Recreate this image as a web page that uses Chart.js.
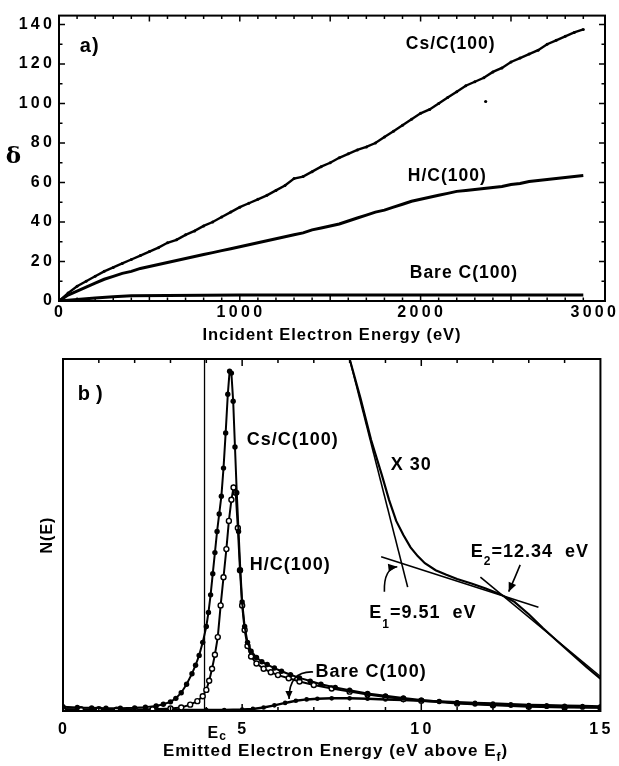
<!DOCTYPE html>
<html>
<head>
<meta charset="utf-8">
<title>Secondary electron yield and energy distribution</title>
<script src="https://cdn.jsdelivr.net/npm/chart.js@4.4.1/dist/chart.umd.min.js"></script>
<style>
  body { margin: 0; background: #fff; }
  .panel { position: absolute; left: 0; }
</style>
</head>
<body>
<canvas id="yieldChart" class="panel" width="619" height="345" style="top:0"></canvas>
<canvas id="spectrumChart" class="panel" width="619" height="421" style="top:345px"></canvas>
<script>
// --- panel a) : yield delta vs incident electron energy (eV) ---
const incidentEnergy = [0, 50, 100, 150, 200, 250, 300, 350, 400, 450, 500, 550, 600, 650, 700, 750,
  800, 850, 900, 950, 1000, 1050, 1100, 1150, 1200, 1250, 1300, 1350, 1400, 1450, 1500, 1550, 1600,
  1650, 1700, 1750, 1800, 1850, 1900, 1950, 2000, 2050, 2100, 2150, 2200, 2250, 2300, 2350, 2400,
  2450, 2500, 2550, 2600, 2650, 2700, 2750, 2800, 2850, 2900];
const csYield = [0, 4, 7.5, 10, 12.5, 15, 17, 19, 21, 23, 25, 27, 29.5, 31, 33.5, 35.5, 38, 40, 42.5,
  45, 47.5, 49.5, 51.5, 53.5, 56, 58.5, 62, 63, 65.5, 68, 70, 72.5, 74.5, 76.5, 78, 80, 83, 86, 89,
  92, 95, 97, 100, 103, 106, 109, 111, 113, 116, 118, 121, 123, 125, 127, 130, 132, 134, 136, 137.5];
const hYield = [0, 3, 5, 7, 9, 11, 12.5, 14, 15, 16.5, 17.5, 18.5, 19.5, 20.5, 21.5, 22.5, 23.5, 24.5,
  25.5, 26.5, 27.5, 28.5, 29.5, 30.5, 31.5, 32.5, 33.5, 34.5, 36, 37, 38, 39, 40.5, 42, 43.5, 45, 46,
  47.5, 49, 50.5, 51.5, 52.5, 53.5, 54.5, 55.5, 56, 56.5, 57, 57.5, 58, 59, 59.5, 60.5, 61, 61.5, 62,
  62.5, 63, 63.5];
const bareIncident = [0, 100, 200, 300, 400, 600, 800, 1000, 1500, 2000, 2500, 2900];
const bareYield = [0, 0.8, 1.5, 2.2, 2.6, 2.8, 2.9, 3, 3, 3, 3, 3];
const csOutlierEnergy = [2360];
const csOutlierYield = [101];
const yieldTickLabels = [0, 1000, 2000, 3000];

// --- panel b) : N(E) vs emitted electron energy (eV above Ef) ---
const csEmitted = [0, 0.4, 0.8, 1.2, 1.6, 2.0, 2.3, 2.6, 2.8, 3.0, 3.15, 3.3, 3.45, 3.6, 3.7, 3.8, 3.9,
  4.0, 4.06, 4.12, 4.18, 4.24, 4.3, 4.36, 4.42, 4.48, 4.54, 4.6, 4.65, 4.7, 4.75, 4.8, 4.85, 4.9, 4.95,
  5.0, 5.07, 5.15, 5.25, 5.4, 5.55, 5.7, 5.9, 6.1, 6.35, 6.6, 6.9, 7.2, 7.6, 8.0, 8.5, 9.0, 9.5, 10.0,
  10.5, 11.0, 11.5, 12.0, 12.5, 13.0, 13.5, 14.0, 14.5, 15.0];
const csCounts = [1.2, 1.0, 0.9, 0.8, 0.8, 0.9, 1.1, 1.4, 1.9, 2.6, 3.6, 5.2, 7.6, 10.6, 13, 15.8, 19.5,
  24, 28, 33, 39, 45, 51, 56, 61, 69, 79, 90, 96.5, 96, 88, 75, 62, 51, 40, 31, 24, 19.5, 17, 15.2, 14,
  13.2, 12.2, 11.3, 10.3, 9.4, 8.5, 7.6, 6.7, 5.9, 5.0, 4.3, 3.7, 3.1, 2.7, 2.3, 2.0, 1.8, 1.6, 1.4, 1.3,
  1.2, 1.1, 1.0];
const hEmitted = [0, 0.5, 1.0, 1.5, 2.0, 2.5, 3.0, 3.3, 3.55, 3.75, 3.9, 4.0, 4.08, 4.16, 4.24, 4.32, 4.4,
  4.48, 4.56, 4.63, 4.7, 4.76, 4.82, 4.88, 4.94, 5.0, 5.07, 5.15, 5.25, 5.4, 5.6, 5.8, 6.0, 6.3, 6.6,
  7.0, 7.5, 8.0, 8.5, 9.0, 9.5, 10, 11, 12, 13, 14, 15];
const hCounts = [0.6, 0.5, 0.5, 0.4, 0.4, 0.5, 0.7, 1.0, 1.8, 2.8, 4.2, 6.0, 8.6, 12, 16, 21, 30, 38, 46,
  54, 60, 63.5, 62, 52, 40, 30, 23, 18.5, 15.5, 13.5, 12, 11, 10.2, 9.3, 8.4, 7.4, 6.4, 5.5, 4.7, 4.0,
  3.4, 2.9, 2.1, 1.6, 1.2, 1.0, 0.9];
const bareEmitted = [0, 1, 2, 3, 4, 4.5, 5.0, 5.3, 5.6, 5.9, 6.2, 6.5, 6.8, 7.1, 7.5, 8, 8.5, 9, 9.5, 10,
  10.5, 11, 11.5, 12, 12.5, 13, 13.5, 14, 14.5, 15];
const bareCounts = [0.3, 0.3, 0.3, 0.3, 0.3, 0.3, 0.4, 0.6, 1.0, 1.6, 2.3, 2.9, 3.3, 3.5, 3.6, 3.6, 3.5,
  3.3, 3.1, 2.9, 2.7, 2.5, 2.3, 2.1, 1.9, 1.7, 1.6, 1.5, 1.4, 1.3];
// tail magnified x30
const x30Emitted = [8.0, 8.3, 8.6, 8.9, 9.1, 9.3, 9.5, 9.7, 9.9, 10.1, 10.4, 10.7, 11.0, 11.4, 11.8, 12.2,
  12.6, 13.0, 13.4, 13.8, 14.2, 14.6, 15.0];
const x30Counts = [100, 89, 77, 67, 60, 54, 50, 46.5, 44, 42, 40, 38.7, 37.5, 36.2, 34.8, 33.2, 31, 27.5,
  23.5, 19.8, 16.2, 12.6, 9.2];
// straight-line fits used for E1 and E2
const fit1Emitted = [8.0, 9.62];
const fit1Counts = [100, 35.2];
const fit2Emitted = [8.88, 13.27];
const fit2Counts = [43.8, 29.5];
const fit3Emitted = [11.65, 15.0];
const fit3Counts = [38, 9.8];
// Ec marker
const ecEmitted = [3.95, 3.95];
const ecCounts = [0, 100];

const FONT = "'Liberation Sans', Arial, Helvetica, sans-serif";
const black = "#000";

Chart.defaults.font.family = FONT;
Chart.defaults.font.weight = "bold";
Chart.defaults.color = black;
Chart.defaults.animation = false;
Chart.defaults.plugins.legend.display = false;
Chart.defaults.plugins.tooltip.enabled = false;

const pairs = (xs, ys) => xs.map((x, i) => ({ x, y: ys[i] }));
const spaced = (v) => String(v).split("").join("\u200A");

function setFont(ctx, size, family) {
  ctx.font = `bold ${size}px ${family || FONT}`;
}

// text pieces drawn one after another; dy shifts subscripts down
function drawRuns(ctx, runs, x, y) {
  ctx.textAlign = "left";
  ctx.textBaseline = "alphabetic";
  for (const r of runs) {
    setFont(ctx, r.size);
    ctx.fillText(r.t, x, y + (r.dy || 0));
    x += ctx.measureText(r.t).width;
  }
}

function label(ctx, text, x, y, size) {
  setFont(ctx, size);
  ctx.textAlign = "left";
  ctx.textBaseline = "middle";
  ctx.fillText(text, x, y);
}

function arrow(ctx, p0, c, p1, head) {
  ctx.beginPath();
  ctx.moveTo(p0[0], p0[1]);
  ctx.quadraticCurveTo(c[0], c[1], p1[0], p1[1]);
  ctx.stroke();
  const a = Math.atan2(p1[1] - c[1], p1[0] - c[0]);
  const bx = p1[0] - head * Math.cos(a), by = p1[1] - head * Math.sin(a);
  const w = head * 0.45;
  ctx.beginPath();
  ctx.moveTo(p1[0], p1[1]);
  ctx.lineTo(bx + w * Math.sin(a), by - w * Math.cos(a));
  ctx.lineTo(bx - w * Math.sin(a), by + w * Math.cos(a));
  ctx.closePath();
  ctx.fill();
}

// frame + inward ticks
function frame(ctx, area, xs, ys, xTicks, yTicks) {
  ctx.strokeStyle = black;
  ctx.lineWidth = 2;
  ctx.strokeRect(area.left, area.top, area.right - area.left, area.bottom - area.top);
  ctx.lineWidth = 1.5;
  ctx.beginPath();
  for (const [v, len] of xTicks) {
    const px = xs.getPixelForValue(v);
    ctx.moveTo(px, area.bottom); ctx.lineTo(px, area.bottom - len);
    ctx.moveTo(px, area.top); ctx.lineTo(px, area.top + len);
  }
  for (const [v, len] of yTicks) {
    const py = ys.getPixelForValue(v);
    ctx.moveTo(area.left, py); ctx.lineTo(area.left + len, py);
    ctx.moveTo(area.right, py); ctx.lineTo(area.right - len, py);
  }
  ctx.stroke();
}

const spacing = {
  id: "spacing",
  beforeDraw(chart) { chart.ctx.letterSpacing = "1px"; }
};

const yieldDecor = {
  id: "yieldDecor",
  afterDraw(chart) {
    const { ctx, chartArea: area, scales: { x, y } } = chart;
    ctx.save();
    ctx.letterSpacing = "1px";
    const xt = [], yt = [];
    for (let v = 100; v < 3000; v += 100) xt.push([v, v % 500 === 0 ? 6 : 3.5]);
    for (let v = 10; v <= 140; v += 10) yt.push([v, v % 20 === 0 ? 6 : 3.5]);
    frame(ctx, area, x, y, xt, yt);
    ctx.fillStyle = black;

    // x tick labels, kept inside the canvas at the right edge
    setFont(ctx, 16);
    ctx.textAlign = "center";
    ctx.textBaseline = "middle";
    for (const v of yieldTickLabels) {
      const t = spaced(v);
      const w = ctx.measureText(t).width;
      const px = Math.min(x.getPixelForValue(v), chart.width - w / 2 - 2);
      ctx.fillText(t, px, area.bottom + 12);
    }

    label(ctx, "a)", x.getPixelForValue(115), y.getPixelForValue(129), 20);
    label(ctx, "Cs/C(100)", x.getPixelForValue(1918), y.getPixelForValue(130), 17.5);
    label(ctx, "H/C(100)", x.getPixelForValue(1929), y.getPixelForValue(63.4), 17.5);
    label(ctx, "Bare C(100)", x.getPixelForValue(1940), y.getPixelForValue(14), 17.5);

    setFont(ctx, 23, "'DejaVu Serif', serif");
    ctx.textAlign = "center";
    ctx.fillText("\u03B4", 14, y.getPixelForValue(73));
    ctx.restore();
  }
};

const spectrumDecor = {
  id: "spectrumDecor",
  afterDraw(chart) {
    const { ctx, chartArea: area, scales: { x, y } } = chart;
    ctx.save();
    ctx.letterSpacing = "1px";
    const xt = [];
    for (let v = 1; v < 15; v++) xt.push([v, v % 5 === 0 ? 7 : 4]);
    frame(ctx, area, x, y, xt, []);
    ctx.fillStyle = black;
    ctx.strokeStyle = black;

    label(ctx, "b\u2009)", x.getPixelForValue(0.41), y.getPixelForValue(89.8), 20);
    label(ctx, "Cs/C(100)", x.getPixelForValue(5.13), y.getPixelForValue(77), 18);
    label(ctx, "H/C(100)", x.getPixelForValue(5.21), y.getPixelForValue(41.5), 18);
    label(ctx, "X 30", x.getPixelForValue(9.15), y.getPixelForValue(69.9), 18);
    label(ctx, "Bare C(100)", x.getPixelForValue(7.05), y.getPixelForValue(11.1), 18);

    drawRuns(ctx, [{ t: "E", size: 18 }, { t: "2", size: 12, dy: 8 }, { t: "=12.34  eV", size: 18 }],
      x.getPixelForValue(11.38), y.getPixelForValue(43.8));
    drawRuns(ctx, [{ t: "E", size: 18 }, { t: "1", size: 12, dy: 10 }, { t: "=9.51  eV", size: 18 }],
      x.getPixelForValue(8.55), y.getPixelForValue(26.4));

    ctx.lineWidth = 1.6;
    const P = (e, n) => [x.getPixelForValue(e), y.getPixelForValue(n)];
    arrow(ctx, P(8.97, 33.9), P(8.95, 40.5), P(9.33, 41), 9);
    arrow(ctx, P(12.76, 41.5), P(12.62, 38), P(12.44, 33.9), 9);
    arrow(ctx, P(6.98, 11.1), P(6.3, 11.4), P(6.31, 3.4), 8);

    // Ec under the axis
    drawRuns(ctx, [{ t: "E", size: 16 }, { t: "c", size: 12, dy: 2 }],
      x.getPixelForValue(3.95) + 3, area.bottom + 27);

    // axis titles
    drawRuns(ctx, [{ t: "Emitted Electron Energy (eV above E", size: 17 }, { t: "f", size: 12, dy: 5 },
      { t: ")", size: 17 }], 163, area.bottom + 45);
    ctx.translate(47.5, (area.top + area.bottom) / 2);
    ctx.rotate(-Math.PI / 2);
    setFont(ctx, 16);
    ctx.textAlign = "center";
    ctx.textBaseline = "middle";
    ctx.fillText("N(E)", 0, 0);
    ctx.restore();
  }
};

const noGrid = { display: false, drawTicks: false };

new Chart(document.getElementById("yieldChart"), {
  type: "scatter",
  data: {
    datasets: [
      { data: pairs(incidentEnergy, csYield), showLine: true, borderColor: black, borderWidth: 2.4,
        pointRadius: 1.5, pointBackgroundColor: black, pointBorderWidth: 0 },
      { data: pairs(incidentEnergy, hYield), showLine: true, borderColor: black, borderWidth: 3,
        pointRadius: 0 },
      { data: pairs(bareIncident, bareYield), showLine: true, borderColor: black, borderWidth: 3,
        pointRadius: 0 },
      { data: pairs(csOutlierEnergy, csOutlierYield), pointRadius: 1.6, pointBackgroundColor: black,
        pointBorderWidth: 0 }
    ]
  },
  options: {
    responsive: false,
    layout: { padding: { left: 0, top: 14, right: 14, bottom: 0 } },
    scales: {
      x: {
        type: "linear", min: 0, max: 3020,
        afterFit: (s) => { s.height = 44; },
        grid: noGrid, border: { display: false },
        ticks: { display: false, stepSize: 1000, includeBounds: false },
        title: { display: true, text: "Incident Electron Energy (eV)", font: { size: 16.5, weight: "bold" },
          padding: { top: 0, bottom: 0 } }
      },
      y: {
        min: 0, max: 144.5,
        afterFit: (s) => { s.width = 59; },
        grid: noGrid, border: { display: false },
        ticks: { stepSize: 20, padding: 6, includeBounds: false, font: { size: 16 }, callback: spaced }
      }
    }
  },
  plugins: [spacing, yieldDecor]
});

new Chart(document.getElementById("spectrumChart"), {
  type: "scatter",
  data: {
    datasets: [
      { data: pairs(csEmitted, csCounts), showLine: true, borderColor: black, borderWidth: 2,
        pointRadius: 2.7, pointBackgroundColor: black, pointBorderWidth: 0 },
      { data: pairs(hEmitted, hCounts), showLine: true, borderColor: black, borderWidth: 2,
        pointRadius: 2.5, pointBackgroundColor: "#fff", pointBorderColor: black, pointBorderWidth: 1.4 },
      { data: pairs(bareEmitted, bareCounts), showLine: true, borderColor: black, borderWidth: 2.5,
        pointRadius: 2.3, pointBackgroundColor: black, pointBorderWidth: 0 },
      { data: pairs(x30Emitted, x30Counts), showLine: true, borderColor: black, borderWidth: 2.2,
        pointRadius: 0 },
      { data: pairs(fit1Emitted, fit1Counts), showLine: true, borderColor: black, borderWidth: 1.6,
        pointRadius: 0 },
      { data: pairs(fit2Emitted, fit2Counts), showLine: true, borderColor: black, borderWidth: 1.6,
        pointRadius: 0 },
      { data: pairs(fit3Emitted, fit3Counts), showLine: true, borderColor: black, borderWidth: 1.6,
        pointRadius: 0 },
      { data: pairs(ecEmitted, ecCounts), showLine: true, borderColor: black, borderWidth: 1.3,
        pointRadius: 0 }
    ]
  },
  options: {
    responsive: false,
    layout: { padding: { left: 0, top: 14, right: 9, bottom: 0 } },
    scales: {
      x: {
        type: "linear", min: 0, max: 15,
        afterFit: (s) => { s.height = 55; },
        grid: noGrid, border: { display: false },
        ticks: { stepSize: 5, padding: 9, font: { size: 16 }, callback: spaced }
      },
      y: {
        min: 0, max: 100,
        afterFit: (s) => { s.width = 63; },
        grid: noGrid, border: { display: false },
        ticks: { display: false }
      }
    }
  },
  plugins: [spacing, spectrumDecor]
});
</script>
</body>
</html>
